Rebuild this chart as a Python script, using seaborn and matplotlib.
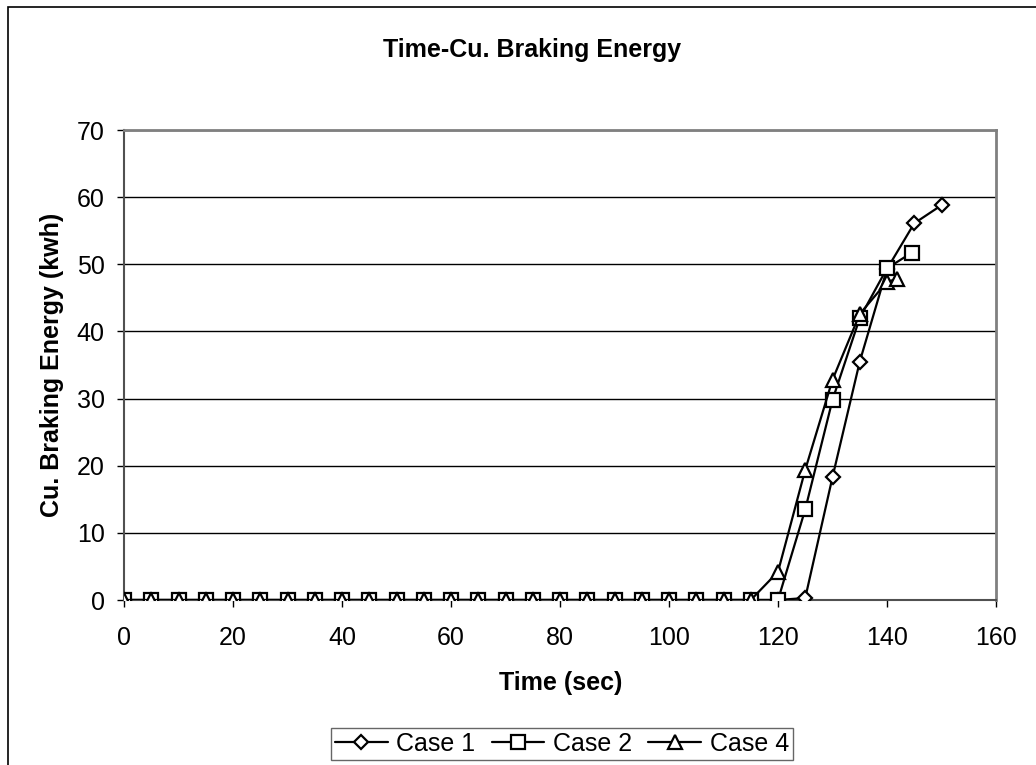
import matplotlib
matplotlib.use("Agg")
import matplotlib.pyplot as plt
import seaborn as sns
import pandas as pd
from matplotlib.patches import Rectangle

# ---- data ----
case1_time = [0, 5, 10, 15, 20, 25, 30, 35, 40, 45, 50, 55, 60, 65, 70, 75, 80, 85, 90, 95,
              100, 105, 110, 115, 120, 125, 130, 135, 140, 145, 150]
case1_energy = [0, 0, 0, 0, 0, 0, 0, 0, 0, 0, 0, 0, 0, 0, 0, 0, 0, 0, 0, 0,
                0, 0, 0, 0, 0, 0.3, 18.3, 35.5, 49.3, 56.1, 58.8]

case2_time = [0, 5, 10, 15, 20, 25, 30, 35, 40, 45, 50, 55, 60, 65, 70, 75, 80, 85, 90, 95,
              100, 105, 110, 115, 120, 125, 130, 135, 140, 144.5]
case2_energy = [0, 0, 0, 0, 0, 0, 0, 0, 0, 0, 0, 0, 0, 0, 0, 0, 0, 0, 0, 0,
                0, 0, 0, 0, 0, 13.5, 29.8, 42.0, 49.4, 51.7]

case4_time = [0, 5, 10, 15, 20, 25, 30, 35, 40, 45, 50, 55, 60, 65, 70, 75, 80, 85, 90, 95,
              100, 105, 110, 115, 120, 125, 130, 135, 140, 141.8]
case4_energy = [0, 0, 0, 0, 0, 0, 0, 0, 0, 0, 0, 0, 0, 0, 0, 0, 0, 0, 0, 0,
                0, 0, 0, 0, 4.2, 19.4, 32.8, 42.6, 47.4, 47.8]

series_names = ["Case 1", "Case 2", "Case 4"]
x_ticks = [0, 20, 40, 60, 80, 100, 120, 140, 160]
y_ticks = [0, 10, 20, 30, 40, 50, 60, 70]

title = "Time-Cu. Braking Energy"
x_label = "Time (sec)"
y_label = "Cu. Braking Energy (kwh)"

# ---- build long-form table ----
frames = []
for name, t, e in zip(series_names, [case1_time, case2_time, case4_time],
                      [case1_energy, case2_energy, case4_energy]):
    frames.append(pd.DataFrame({"time": t, "energy": e, "case": name}))
df = pd.concat(frames, ignore_index=True)

sns.set_theme(style="white")
plt.rcParams["font.family"] = ["Liberation Sans", "DejaVu Sans"]
plt.rcParams["text.color"] = "black"
plt.rcParams["axes.labelcolor"] = "black"
plt.rcParams["xtick.color"] = "black"
plt.rcParams["ytick.color"] = "black"

W, H = 1036, 765
fig = plt.figure(figsize=(W / 100, H / 100), dpi=100)
ax = fig.add_axes([124 / W, 1 - 600 / H, 872 / W, 470 / H])

markers = {"Case 1": "D", "Case 2": "s", "Case 4": "^"}
sizes_ms = {"Case 1": 7, "Case 2": 10, "Case 4": 10}
for name in series_names:
    sub = df[df["case"] == name]
    sns.lineplot(data=sub, x="time", y="energy", ax=ax, color="black", linewidth=1.6,
                 marker=markers[name], markersize=sizes_ms[name], markerfacecolor="white",
                 markeredgecolor="black", markeredgewidth=1.6, label=name, sort=False,
                 estimator=None, zorder=3)

ax.set_xlim(0, 160)
ax.set_ylim(0, 70)
ax.set_xticks(x_ticks)
ax.set_yticks(y_ticks)
ax.tick_params(axis="both", which="both", direction="out", length=5, width=1,
               colors="black", labelsize=18, bottom=True, left=True)
ax.tick_params(axis="x", pad=14)
ax.tick_params(axis="y", pad=9)
ax.yaxis.grid(True, color="black", linewidth=1)
ax.xaxis.grid(False)
ax.set_axisbelow(True)
for s in ["top", "right"]:
    ax.spines[s].set_color("#808080")
    ax.spines[s].set_linewidth(2)
for s in ["left", "bottom"]:
    ax.spines[s].set_color("#505050")
    ax.spines[s].set_linewidth(1.5)

ax.set_xlabel(x_label, fontsize=18, fontweight="bold", va="center", color="black")
ax.set_ylabel(y_label, fontsize=18, fontweight="bold", va="center", color="black")
ax.xaxis.set_label_coords((561 - 124) / 872, (600 - 683) / 470)
ax.yaxis.set_label_coords((52 - 124) / 872, (600 - 365) / 470)

fig.text(532 / W, 1 - 57 / H, title, ha="center", va="baseline",
         fontsize=18, fontweight="bold", color="black")

leg = ax.legend(loc="center", bbox_to_anchor=(562 / W, 1 - 744 / H),
                bbox_transform=fig.transFigure, ncol=3, frameon=True, fancybox=False,
                fontsize=18, handlelength=2.1, handletextpad=0.35, columnspacing=0.65,
                borderpad=0.15, borderaxespad=0, edgecolor="#404040")
leg.get_frame().set_linewidth(1)
for t in leg.get_texts():
    t.set_color("black")

fig.patches.append(Rectangle((8 / W, -0.01), 1.05, 1 - 7 / H + 0.01,
                             transform=fig.transFigure, fill=False,
                             edgecolor="black", linewidth=1.2, zorder=0))

fig.savefig("out.png", dpi=100, facecolor="white")
